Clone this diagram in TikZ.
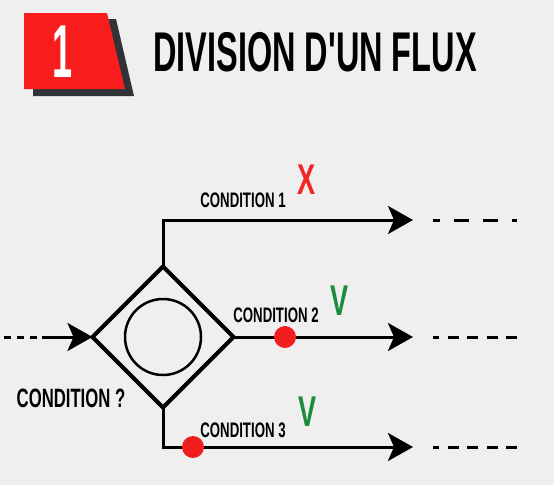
\documentclass[tikz,border=0pt]{standalone}
\usepackage{fontspec}
\usetikzlibrary{arrows.meta,shapes.geometric}
\newfontfamily\labelfont[FakeStretch=0.63]{Liberation Sans}
\newfontfamily\headfont[FakeStretch=0.58]{Liberation Sans}
\newfontfamily\badgefont[FakeStretch=0.48]{Liberation Sans}
\definecolor{paper}{HTML}{EFEFEF}
\definecolor{badgered}{HTML}{F81C1C}
\definecolor{badgeshade}{HTML}{303337}
\definecolor{dotred}{HTML}{F01E1E}
\definecolor{failred}{HTML}{F52424}
\definecolor{passgreen}{HTML}{1C8B3B}
\begin{document}
\begin{tikzpicture}[x=1pt,y=-1pt,
  flow/.style={line width=3pt,-{Stealth[length=25pt,width=28pt,inset=6pt]}},
  trail/.style={line width=3pt,dash pattern=on 11pt off 8.5pt,dash phase=5pt},
  cond/.style={inner sep=0pt,font=\labelfont\bfseries\fontsize{21}{21}\selectfont},
  verdict/.style={inner sep=0pt,font=\labelfont\bfseries\fontsize{43}{43}\selectfont},
  reddot/.style={circle,fill=dotred,inner sep=0pt,minimum size=22pt}]
\useasboundingbox (0,0) rectangle (554,485);
\fill[paper] (0,0) rectangle (554,485);
\fill[badgeshade] (33,19) -- (116,19) -- (134,96) -- (33,96) -- cycle;
\fill[badgered] (24,13) -- (107,13) -- (125,89) -- (24,89) -- cycle;
\node[inner sep=0pt,text=white,font=\badgefont\bfseries\fontsize{75}{75}\selectfont] (badge) at (63,52) {1};
\node[inner sep=0pt,font=\headfont\bfseries\fontsize{56}{56}\selectfont] (title) at (315,52) {DIVISION D'UN FLUX};
\node[diamond,draw,line width=4pt,minimum width=141pt,minimum height=141pt,inner sep=0pt,outer sep=0pt] (split) at (163,337) {};
\node[circle,draw,line width=2.5pt,minimum size=76pt,inner sep=0pt] (core) at (split) {};
\coordinate (src) at (4,337);
\coordinate (solid) at (42,337);
\draw[line width=3pt,dash pattern=on 7pt off 6pt] (src) -- (solid);
\draw[flow] (solid) -- (split.west);
\coordinate (tip1) at (413,220);
\coordinate (tip2) at (413,337);
\coordinate (tip3) at (413,447);
\draw[flow] (split.north) |- (tip1);
\draw[flow] (split.east) -- (tip2);
\draw[flow] (split.south) |- (tip3);
\coordinate (tail1) at (433,220);
\coordinate (tail2) at (433,337);
\coordinate (tail3) at (433,447);
\draw[line width=3pt,dash pattern=on 15pt off 14pt,dash phase=8pt] (tail1) -- ++(84,0) coordinate (end1);
\draw[trail] (tail2) -- ++(84,0) coordinate (end2);
\draw[trail] (tail3) -- ++(84,0) coordinate (end3);
\node[reddot] (dot2) at (285,337) {};
\node[reddot] (dot3) at (193,447) {};
\node[cond] (cond1) at (243,200) {CONDITION 1};
\node[cond] (cond2) at (276,315) {CONDITION 2};
\node[cond] (cond3) at (243,430) {CONDITION 3};
\node[cond,font=\labelfont\bfseries\fontsize{26.5}{26.5}\selectfont] (ask) at (71,398) {CONDITION ?};
\node[verdict,text=failred] (no1) at (307,180) {X};
\node[verdict,text=passgreen] (yes2) at (340,301) {V};
\node[verdict,text=passgreen] (yes3) at (308,412) {V};
\end{tikzpicture}
\end{document}
